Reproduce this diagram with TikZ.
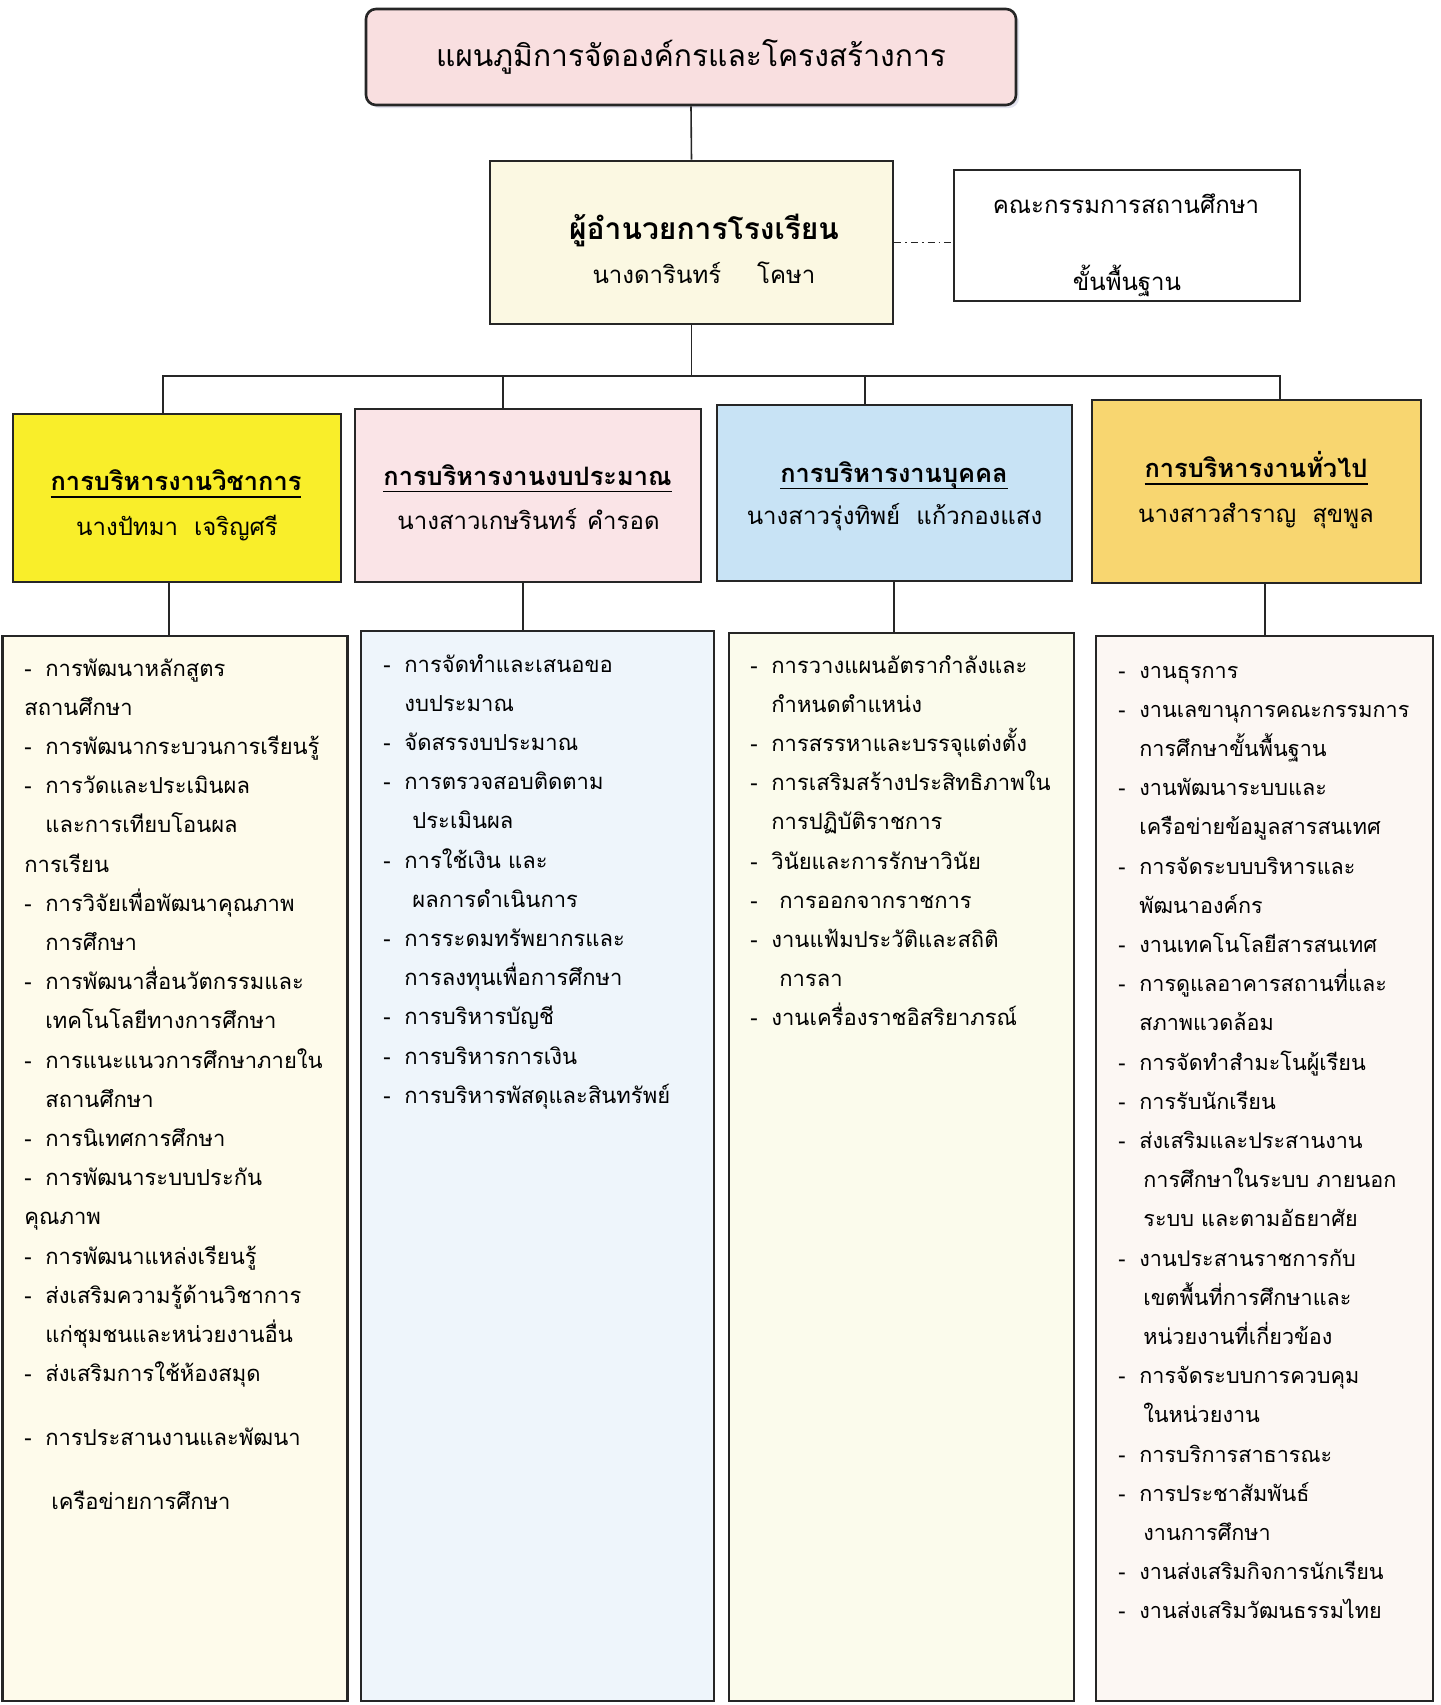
\documentclass[tikz,border=0pt]{standalone}
\usepackage{fontspec}
\setmainfont[Script=Thai]{Loma}
\usetikzlibrary{positioning}
\usetikzlibrary{shadows}

\definecolor{planpink}{HTML}{F9DFE0}
\definecolor{dircream}{HTML}{FBF8E2}
\definecolor{acadyellow}{HTML}{F9EE2A}
\definecolor{budgetpink}{HTML}{FAE4E7}
\definecolor{staffblue}{HTML}{C8E3F5}
\definecolor{generalgold}{HTML}{F8D670}
\definecolor{acadlist}{HTML}{FEFBEB}
\definecolor{budgetlist}{HTML}{EEF5FB}
\definecolor{stafflist}{HTML}{FBFBEC}
\definecolor{generallist}{HTML}{FCF7F3}

\newcommand\uln[1]{\setbox0\hbox{#1}\rlap{\rule[-3.5pt]{\wd0}{0.7pt}}\box0}
\newcommand\itm{\makebox[10.5pt][l]{-}} % dash of a list item
\newcommand\ind{\hspace*{10.5pt}}       % carried-on line

\tikzset{
box/.style={ % every framed box
draw=black!85,
line width=1.3pt,
inner sep=0pt},
headtitle/.style={anchor=base, inner sep=0pt,
font=\bfseries\fontsize{12.7}{16}\selectfont},
headname/.style={anchor=base, inner sep=0pt,
font=\fontsize{12}{15}\selectfont},
listtext/.style={ % text inside the long boxes
anchor=base west,
inner sep=0pt,
text width=165pt,
align=left,
font=\fontsize{11}{19.6}\selectfont},
link/.style={draw=black!85, line width=0.8pt}}

\begin{document}
\begin{tikzpicture}[x=0.5pt,y=-0.5pt]
\useasboundingbox (0,0) rectangle (1441,1705);
% top of the chart
\node[box, rounded corners=5pt, fill=planpink, minimum width=325pt, minimum height=48pt,
  drop shadow={fill=blue!25!gray!35, shadow xshift=1.5pt, shadow yshift=-1.5pt},
  font=\fontsize{15}{18}\selectfont] (plan) at (691,57) {แผนภูมิการจัดองค์กรและโครงสร้างการ};
\node[box, fill=dircream, minimum width=201.5pt, minimum height=81.5pt] (dir) at (691.5,242.5) {};
\node[headtitle, font=\bfseries\fontsize{15}{18}\selectfont] (dirT) at (704,239.5) {ผู้อำนวยการโรงเรียน};
\node[headname] (dirN) at (704,283) {นางดารินทร์\hspace{18pt}โคษา};
\node[box, fill=white, minimum width=173pt, minimum height=65.5pt] (comm) at (1127,235.5) {};
\node[headname] (commA) at (1126,213.5) {คณะกรรมการสถานศึกษา};
\node[headname] (commB) at (1127,290) {ขั้นพื้นฐาน};

% four work lines
\node[box, fill=acadyellow, minimum width=164pt, minimum height=84pt] (acad) at (177,498) {};
\node[box, fill=budgetpink, minimum width=173pt, minimum height=86.5pt] (budget) at (528,495.5) {};
\node[box, fill=staffblue, minimum width=177.5pt, minimum height=88pt] (staff) at (894.5,493) {};
\node[box, fill=generalgold, minimum width=164.5pt, minimum height=91.5pt] (general) at (1256.5,491.5) {};

\node[headtitle] (acadH) at (176,490.5) {\uln{การบริหารงานวิชาการ}};
\node[headname] (acadN) at (177,535.5) {นางปัทมา\hspace{8pt}เจริญศรี};
\node[headtitle] (budgetH) at (527.5,485) {\uln{การบริหารงานงบประมาณ}};
\node[headname] (budgetN) at (528.5,529) {นางสาวเกษรินทร์\hspace{5pt}คำรอด};
\node[headtitle] (staffH) at (894,482) {\uln{การบริหารงานบุคคล}};
\node[headname] (staffN) at (894.5,524.5) {นางสาวรุ่งทิพย์\hspace{8pt}แก้วกองแสง};
\node[headtitle] (generalH) at (1256,477.5) {\uln{การบริหารงานทั่วไป}};
\node[headname] (generalN) at (1256,522.5) {นางสาวสำราญ\hspace{8pt}สุขพูล};

\node[box, fill=acadlist, minimum width=172.5pt, minimum height=532.5pt] (acadL) at (175,1168.5) {};
\node[box, fill=budgetlist, minimum width=176.5pt, minimum height=535pt] (budgetL) at (537.5,1166) {};
\node[box, fill=stafflist, minimum width=172.5pt, minimum height=534pt] (staffL) at (901.5,1167) {};
\node[box, fill=generallist, minimum width=168.5pt, minimum height=532.5pt] (generalL) at (1264.5,1168.5) {};

% lists
\node[listtext] (acadT) at (24,676) {%
\itm การพัฒนาหลักสูตร\\
สถานศึกษา\\
\itm การพัฒนากระบวนการเรียนรู้\\
\itm การวัดและประเมินผล\\
\ind และการเทียบโอนผล\\
การเรียน\\
\itm การวิจัยเพื่อพัฒนาคุณภาพ\\
\ind การศึกษา\\
\itm การพัฒนาสื่อนวัตกรรมและ\\
\ind เทคโนโลยีทางการศึกษา\\
\itm การแนะแนวการศึกษาภายใน\\
\ind สถานศึกษา\\
\itm การนิเทศการศึกษา\\
\itm การพัฒนาระบบประกัน\\
คุณภาพ\\
\itm การพัฒนาแหล่งเรียนรู้\\
\itm ส่งเสริมความรู้ด้านวิชาการ\\
\ind แก่ชุมชนและหน่วยงานอื่น\\
\itm ส่งเสริมการใช้ห้องสมุด\\[12.5pt]
\itm การประสานงานและพัฒนา\\[12pt]
\ind\hspace*{3pt}เครือข่ายการศึกษา};

\node[listtext] (budgetT) at (383,672) {%
\itm การจัดทำและเสนอขอ\\
\ind งบประมาณ\\
\itm จัดสรรงบประมาณ\\
\itm การตรวจสอบติดตาม\\
\ind\hspace*{4pt}ประเมินผล\\
\itm การใช้เงิน และ\\
\ind\hspace*{4pt}ผลการดำเนินการ\\
\itm การระดมทรัพยากรและ\\
\ind การลงทุนเพื่อการศึกษา\\
\itm การบริหารบัญชี\\
\itm การบริหารการเงิน\\
\itm การบริหารพัสดุและสินทรัพย์};

\node[listtext] (staffT) at (750,673) {%
\itm การวางแผนอัตรากำลังและ\\
\ind กำหนดตำแหน่ง\\
\itm การสรรหาและบรรจุแต่งตั้ง\\
\itm การเสริมสร้างประสิทธิภาพใน\\
\ind การปฏิบัติราชการ\\
\itm วินัยและการรักษาวินัย\\
\itm\hspace*{4pt}การออกจากราชการ\\
\itm งานแฟ้มประวัติและสถิติ\\
\ind\hspace*{4pt}การลา\\
\itm งานเครื่องราชอิสริยาภรณ์};

\node[listtext, font=\fontsize{10.8}{19.6}\selectfont] (generalT) at (1118,678) {%
\itm งานธุรการ\\
\itm งานเลขานุการคณะกรรมการ\\
\ind การศึกษาขั้นพื้นฐาน\\
\itm งานพัฒนาระบบและ\\
\ind เครือข่ายข้อมูลสารสนเทศ\\
\itm การจัดระบบบริหารและ\\
\ind พัฒนาองค์กร\\
\itm งานเทคโนโลยีสารสนเทศ\\
\itm การดูแลอาคารสถานที่และ\\
\ind สภาพแวดล้อม\\
\itm การจัดทำสำมะโนผู้เรียน\\
\itm การรับนักเรียน\\
\itm ส่งเสริมและประสานงาน\\
\ind\hspace*{2pt}การศึกษาในระบบ ภายนอก\\
\ind\hspace*{2pt}ระบบ และตามอัธยาศัย\\
\itm งานประสานราชการกับ\\
\ind\hspace*{2pt}เขตพื้นที่การศึกษาและ\\
\ind\hspace*{2pt}หน่วยงานที่เกี่ยวข้อง\\
\itm การจัดระบบการควบคุม\\
\ind\hspace*{2pt}ในหน่วยงาน\\
\itm การบริการสาธารณะ\\
\itm การประชาสัมพันธ์\\
\ind\hspace*{2pt}งานการศึกษา\\
\itm งานส่งเสริมกิจการนักเรียน\\
\itm งานส่งเสริมวัฒนธรรมไทย};

% lines
\coordinate (busA) at (163,376);
\coordinate (busB) at (503,376);
\coordinate (busC) at (865,376);
\coordinate (busD) at (1280,376);
\draw[link] (plan.south) -- (dir.north);
\draw[link] (dir.south) -- (dir.south |- busA);
\draw[link] (acad.north -| busA) -- (busA) -- (busD) -- (general.north -| busD);
\draw[link] (busB) -- (budget.north -| busB);
\draw[link] (busC) -- (staff.north -| busC);
\draw[link, dash pattern=on 3.5pt off 2pt on 0.8pt off 2pt] (dir.east) -- (dir.east -| comm.west);

\coordinate (dropA) at (169,600);
\coordinate (dropB) at (523,600);
\coordinate (dropC) at (894,600);
\coordinate (dropD) at (1265,600);
\draw[link] (acad.south -| dropA) -- (acadL.north -| dropA);
\draw[link] (budget.south -| dropB) -- (budgetL.north -| dropB);
\draw[link] (staff.south -| dropC) -- (staffL.north -| dropC);
\draw[link] (general.south -| dropD) -- (generalL.north -| dropD);
\end{tikzpicture}
\end{document}
